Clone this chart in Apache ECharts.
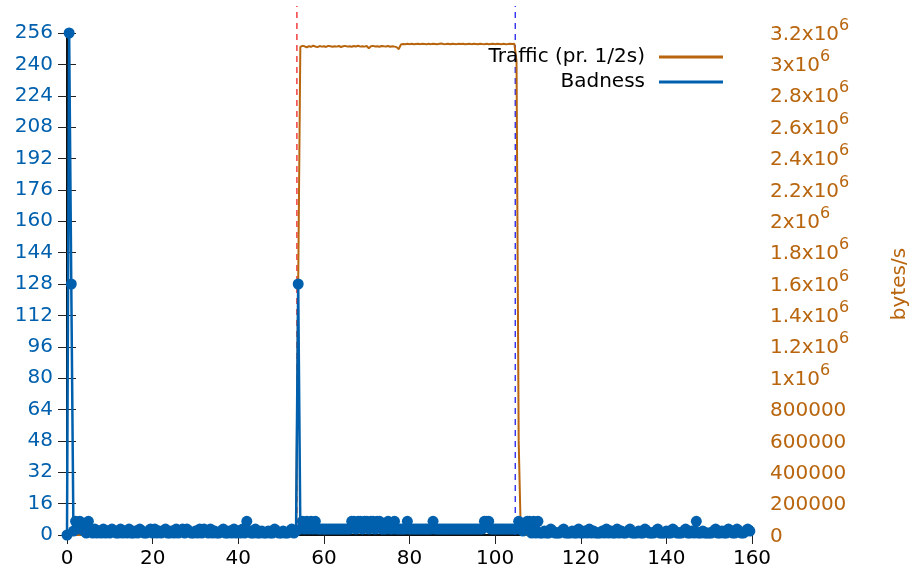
<!DOCTYPE html>
<html>
<head>
<meta charset="utf-8">
<script src="https://cdn.jsdelivr.net/npm/echarts@6/dist/echarts.min.js"></script>
<style>
  html, body { margin: 0; padding: 0; background: #fff; }
  #chart { width: 913px; height: 573px; }
</style>
</head>
<body>
<div id="chart"></div>
<script>
// one sample every half second
var sampleStep = 0.5;

// badness per sample (t = 0, 0.5, 1, ...)
var badness = [
  0, 256, 128, 2, 7, 3, 7, 3, 2, 1, 7, 2, 1, 3, 1, 2, 1, 3, 1, 2,
  1, 3, 2, 1, 1, 3, 1, 2, 1, 3, 1, 1, 2, 1, 3, 2, 1, 1, 2, 3,
  1, 3, 1, 2, 1, 2, 3, 1, 1, 2, 1, 3, 1, 2, 3, 1, 3, 2, 1, 1,
  2, 1, 3, 1, 3, 2, 1, 3, 1, 2, 1, 1, 2, 3, 1, 1, 2, 1, 3, 1,
  2, 1, 3, 1, 7, 2, 1, 1, 3, 1, 1, 2, 1, 1, 2, 1, 1, 3, 2, 1,
  1, 2, 1, 1, 2, 3, 1, 2, 128, 3, 7, 3, 7, 3, 7, 3, 7, 3, 3, 3,
  3, 3, 3, 3, 3, 3, 3, 3, 3, 3, 3, 3, 3, 7, 7, 3, 7, 7, 3, 7,
  7, 3, 7, 7, 3, 7, 7, 3, 3, 3, 7, 3, 3, 7, 3, 3, 3, 3, 3, 7,
  3, 3, 3, 3, 3, 3, 3, 3, 3, 3, 3, 7, 3, 3, 3, 3, 3, 3, 3, 3,
  3, 3, 3, 3, 3, 3, 3, 3, 3, 3, 3, 3, 3, 3, 3, 7, 7, 7, 3, 3,
  3, 3, 3, 3, 3, 3, 3, 3, 3, 3, 3, 7, 3, 2, 3, 7, 7, 1, 7, 1,
  7, 1, 1, 2, 1, 1, 3, 2, 1, 1, 1, 2, 3, 1, 1, 1, 2, 1, 1, 3,
  1, 1, 2, 1, 3, 1, 2, 1, 1, 1, 2, 1, 3, 1, 2, 1, 1, 3, 1, 2,
  1, 1, 2, 3, 1, 1, 1, 2, 1, 1, 3, 2, 1, 1, 1, 2, 3, 1, 1, 1,
  2, 1, 1, 3, 2, 1, 1, 1, 2, 3, 1, 1, 2, 1, 7, 1, 1, 2, 1, 1,
  1, 1, 2, 3, 1, 1, 2, 1, 1, 3, 2, 1, 1, 3, 2, 1, 1, 2, 3, 2
];

// traffic per sample, in millions of bytes/s
var trafficM = [
  0, 0, 0, 0, 0, 0, 0, 0, 0, 0, 0, 0, 0, 0, 0, 0, 0, 0, 0, 0,
  0, 0, 0, 0, 0, 0, 0, 0, 0, 0, 0, 0, 0, 0, 0, 0, 0, 0, 0, 0,
  0, 0, 0, 0, 0, 0, 0, 0, 0, 0, 0, 0, 0, 0, 0, 0, 0, 0, 0, 0,
  0, 0, 0, 0, 0, 0, 0, 0, 0, 0, 0, 0, 0, 0, 0, 0, 0, 0, 0, 0,
  0, 0, 0, 0, 0, 0, 0, 0, 0, 0, 0, 0, 0, 0, 0, 0, 0, 0, 0, 0,
  0, 0, 0, 0, 0, 0, 0, 0, 1.6, 3.112, 3.118, 3.115, 3.108, 3.116, 3.112, 3.119, 3.114, 3.110, 3.117, 3.113,
  3.116, 3.111, 3.118, 3.115, 3.112, 3.116, 3.113, 3.117, 3.111, 3.115, 3.118, 3.113, 3.116, 3.112, 3.117, 3.114, 3.119, 3.113, 3.116, 3.113,
  3.117, 3.103, 3.115, 3.118, 3.114, 3.116, 3.112, 3.117, 3.115, 3.114, 3.117, 3.112, 3.116, 3.113, 3.110, 3.097, 3.127, 3.130, 3.128, 3.131,
  3.129, 3.132, 3.128, 3.130, 3.131, 3.129, 3.132, 3.130, 3.128, 3.131, 3.129, 3.132, 3.130, 3.128, 3.131, 3.133, 3.129, 3.130, 3.132, 3.128,
  3.131, 3.130, 3.129, 3.132, 3.130, 3.131, 3.128, 3.130, 3.132, 3.129, 3.131, 3.130, 3.128, 3.132, 3.130, 3.129, 3.131, 3.128, 3.130, 3.132,
  3.129, 3.131, 3.130, 3.128, 3.131, 3.129, 3.130, 3.132, 3.130, 3.131, 3.02, 0.6, 0, 0, 0, 0, 0, 0, 0, 0,
  0, 0, 0, 0, 0, 0, 0, 0, 0, 0, 0, 0, 0, 0, 0, 0, 0, 0, 0, 0,
  0, 0, 0, 0, 0, 0, 0, 0, 0, 0, 0, 0, 0, 0, 0, 0, 0, 0, 0, 0,
  0, 0, 0, 0, 0, 0, 0, 0, 0, 0, 0, 0, 0, 0, 0, 0, 0, 0, 0, 0,
  0, 0, 0, 0, 0, 0, 0, 0, 0, 0, 0, 0, 0, 0, 0, 0, 0, 0, 0, 0,
  0, 0, 0, 0, 0, 0, 0, 0, 0, 0, 0, 0, 0, 0, 0, 0, 0, 0, 0, 0
];

// dashed vertical markers (seconds)
var markerTimes = [53.7, 104.7];
var markerColors = ['#f02020', '#2020f0'];

var seriesNames = ['Traffic (pr. 1/2s)', 'Badness'];

var xRange = { min: 0, max: 160, interval: 20 };
var leftRange = { min: 0, max: 256, interval: 16 };
var rightRange = { min: 0, max: 3200000, interval: 200000 };

var font = 'DejaVu Sans';
var blue = '#0060ad';
var orange = '#b8650e';

var badnessData = badness.map(function (v, i) { return [i * sampleStep, v]; });
var trafficData = trafficM.map(function (v, i) { return [i * sampleStep, v * 1e6]; });

function rightLabel(v) {
  if (v < 1e6) return String(v);
  return '{m|' + (v / 1e6) + 'x10}{s|6}';
}

var axisLine = { show: true, lineStyle: { color: '#000', width: 1.5 } };
var tick = { show: true, inside: true, length: 9, lineStyle: { color: '#222', width: 1 } };

var chart = echarts.init(document.getElementById('chart'));

var legendBase = {
  right: 185,
  align: 'right',
  icon: 'rect',
  itemWidth: 64,
  itemHeight: 3,
  textStyle: { fontSize: 20, color: '#000', fontFamily: font, padding: [0, 9, 0, 0] }
};

// markers live on a taller hidden grid so they reach above the frame
var markerSeries = markerTimes.map(function (t, i) {
  return {
    type: 'line', xAxisIndex: 2, yAxisIndex: 2, silent: true, z: 1,
    data: [[t, 0], [t, 1]], symbol: 'none',
    lineStyle: { color: markerColors[i], type: [6, 5], width: 1.3 }
  };
});

chart.setOption({
  animation: false,
  backgroundColor: '#fff',
  textStyle: { fontFamily: font },
  grid: [
    { left: 67, right: 161, top: 33, bottom: 38, outerBoundsMode: 'none' },
    { left: 67, right: 161, top: 6, bottom: 38, outerBoundsMode: 'none' }
  ],
  legend: [
    Object.assign({}, legendBase, { data: [seriesNames[0]], top: 42 }),
    Object.assign({}, legendBase, { data: [seriesNames[1]], top: 67 })
  ],
  xAxis: [
    {
      type: 'value', gridIndex: 0, position: 'bottom',
      min: xRange.min, max: xRange.max, interval: xRange.interval,
      axisLine: axisLine, axisTick: tick,
      axisLabel: { color: '#000', fontSize: 20, margin: 14, fontFamily: font },
      splitLine: { show: false }
    },
    {
      type: 'value', gridIndex: 0, position: 'top',
      min: xRange.min, max: xRange.max, interval: xRange.interval,
      axisLine: axisLine, axisTick: tick,
      axisLabel: { show: false },
      splitLine: { show: false }
    },
    { type: 'value', gridIndex: 1, min: xRange.min, max: xRange.max, show: false }
  ],
  yAxis: [
    {
      type: 'value', gridIndex: 0, position: 'left',
      min: leftRange.min, max: leftRange.max, interval: leftRange.interval,
      axisLine: axisLine, axisTick: tick,
      axisLabel: { color: blue, fontSize: 20, margin: 14, fontFamily: font, padding: [3, 0, 0, 0] },
      splitLine: { show: false }
    },
    {
      type: 'value', gridIndex: 0, position: 'right',
      min: rightRange.min, max: rightRange.max, interval: rightRange.interval,
      name: 'bytes/s', nameLocation: 'middle', nameRotate: 90, nameGap: 138,
      nameTextStyle: { color: orange, fontSize: 20, fontFamily: font },
      axisLine: axisLine, axisTick: tick,
      axisLabel: {
        color: orange, fontSize: 20, margin: 18, fontFamily: font, padding: [3, 0, 0, 0],
        formatter: rightLabel,
        rich: {
          m: { color: orange, fontSize: 20, fontFamily: font },
          s: { color: orange, fontSize: 16, fontFamily: font, padding: [0, 0, 18, 0] }
        }
      },
      splitLine: { show: false }
    },
    { type: 'value', gridIndex: 1, min: 0, max: 1, show: false }
  ],
  series: markerSeries.concat([
    {
      name: seriesNames[0], type: 'line', xAxisIndex: 0, yAxisIndex: 1,
      data: trafficData, symbol: 'none', z: 2,
      lineStyle: { color: orange, width: 2 }, itemStyle: { color: orange }
    },
    {
      name: seriesNames[1], type: 'line', xAxisIndex: 0, yAxisIndex: 0,
      data: badnessData, symbol: 'circle', symbolSize: 11, showAllSymbol: true, clip: false, z: 3,
      lineStyle: { color: blue, width: 2.5 }, itemStyle: { color: blue }
    }
  ])
});
</script>
</body>
</html>
